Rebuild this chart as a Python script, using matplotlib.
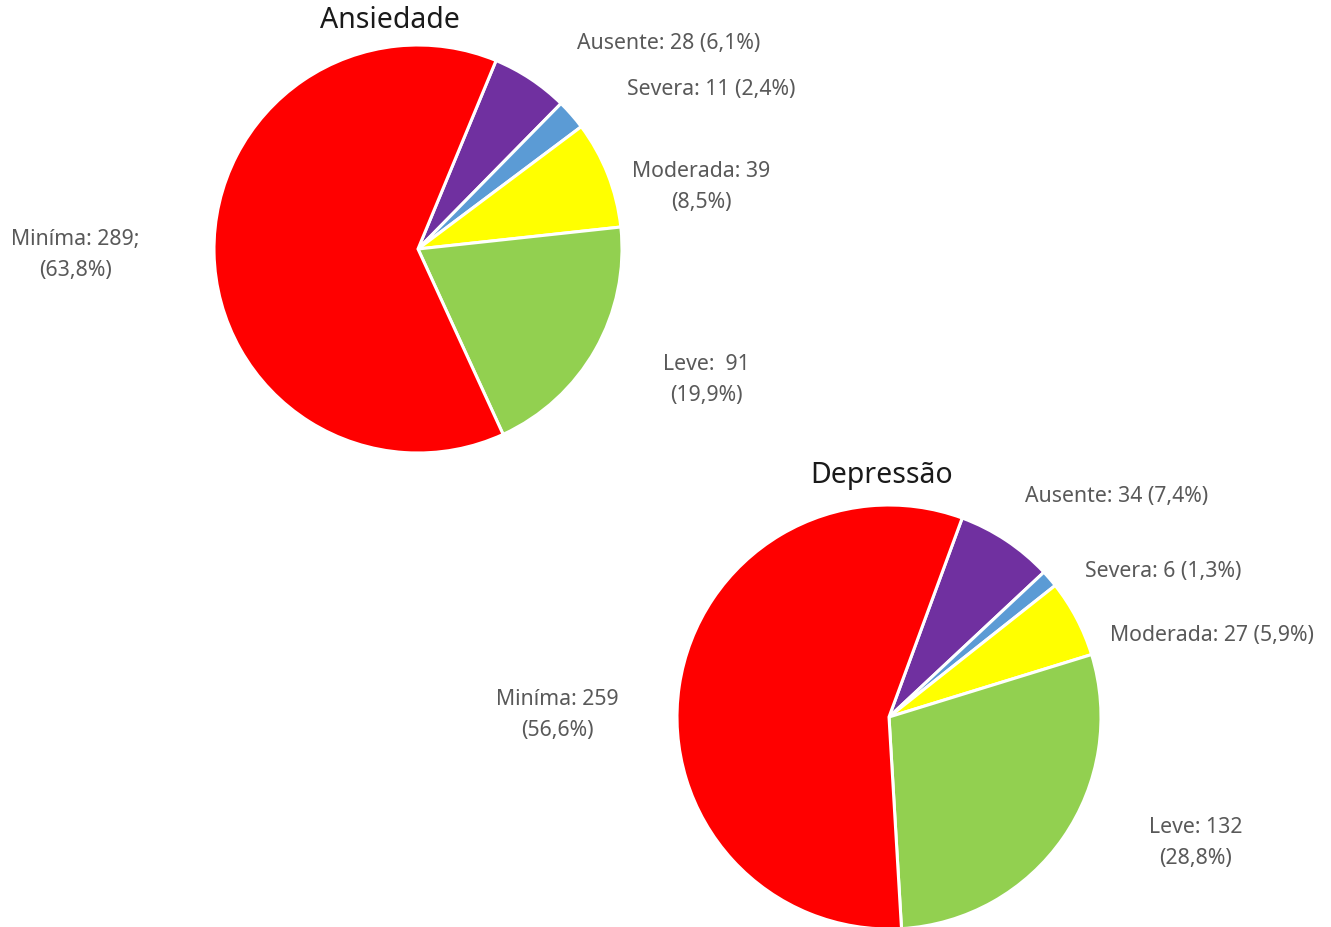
import matplotlib.pyplot as plt

# category order (clockwise from the top)
categories = ['Ausente', 'Severa', 'Moderada', 'Leve', 'Miníma']
colors = ['#7030A0', '#5B9BD5', '#FFFF00', '#92D050', '#FF0000']

# Ansiedade
ans_values = [28, 11, 39, 91, 289]
ans_labels = ['Ausente: 28 (6,1%)', 'Severa: 11 (2,4%)', 'Moderada: 39\n(8,5%)',
              'Leve:  91\n(19,9%)', 'Miníma: 289;\n(63,8%)']

# Depressão
dep_values = [34, 6, 27, 132, 259]
dep_labels = ['Ausente: 34 (7,4%)', 'Severa: 6 (1,3%)', 'Moderada: 27 (5,9%)',
              'Leve: 132\n(28,8%)', 'Miníma: 259\n(56,6%)']

W, H = 1331, 928
plt.rcParams['font.family'] = ['Noto Sans', 'DejaVu Sans']

fig = plt.figure(figsize=(W / 100, H / 100), dpi=100)
ax = fig.add_axes([0, 0, 1, 1])


def draw_pie(values, labels, center, radius, start, title, title_pos, label_pos):
    cx, cy = center
    ax.pie(values, colors=colors, startangle=start, counterclock=False,
           center=(cx, H - cy), radius=radius,
           wedgeprops=dict(edgecolor='white', linewidth=2.2))
    ax.text(title_pos[0], H - title_pos[1], title, ha='center', va='center',
            fontsize=20.5, color='#1a1a1a')
    for lab, (x, y) in zip(labels, label_pos):
        ax.text(x, H - y, lab, ha='center', va='center', fontsize=15.3,
                color='#595959', linespacing=1.58)


draw_pie(ans_values, ans_labels, (418, 250), 204, 67.5, 'Ansiedade', (390, 20),
         [(669, 43), (711, 89), (701, 187), (706, 380), (75, 255)])
draw_pie(dep_values, dep_labels, (889, 718), 212, 69.8, 'Depressão', (882, 476),
         [(1117, 497), (1163, 571), (1212, 636), (1196, 843), (557, 715)])

ax.set_xlim(0, W)
ax.set_ylim(0, H)
ax.set_aspect('equal')
ax.axis('off')

fig.savefig('out.png', dpi=100, facecolor='white')
